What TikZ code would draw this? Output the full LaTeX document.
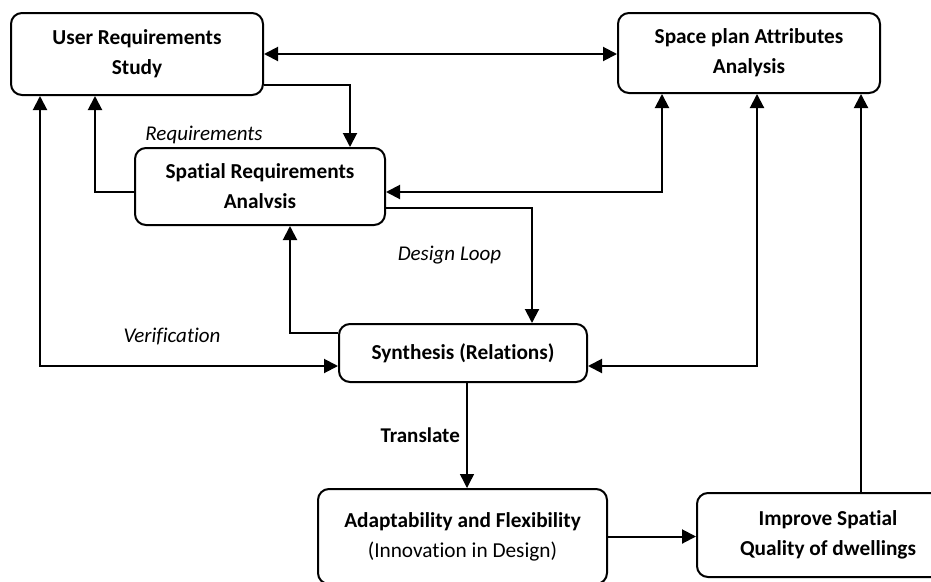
\documentclass[tikz,border=0pt]{standalone}
\usepackage{fontspec}
\setmainfont{Carlito}[Ligatures=NoCommon]
\usetikzlibrary{arrows.meta}
\tikzset{
  box/.style={draw, line width=2pt, rounded corners=11pt, align=center, inner sep=0pt,
    font=\fontsize{21.3}{30}\selectfont\bfseries},
  lbl/.style={inner sep=0pt, font=\fontsize{21}{24}\selectfont\itshape},
  conn/.style={line width=2pt, -{Triangle[length=14pt,width=14pt]}},
  both/.style={line width=2pt, {Triangle[length=14pt,width=14pt]}-{Triangle[length=14pt,width=14pt]}},
}
\begin{document}
\begin{tikzpicture}[x=1pt,y=-1pt]
\useasboundingbox (0,0) rectangle (931,581);
\clip (0,0) rectangle (931,581);
\node[box, minimum width=252pt, minimum height=82pt] (user) at (137,54) {User Requirements\\Study};
\node[box, minimum width=262pt, minimum height=80pt] (space) at (749,53) {Space plan Attributes\\Analysis};
\node[box, minimum width=250pt, minimum height=77pt] (spatial) at (260,186.5) {Spatial Requirements\\Analvsis};
\node[box, minimum width=248pt, minimum height=58pt] (synth) at (463,353) {Synthesis (Relations)};
\node[box, minimum width=289pt, minimum height=95pt] (adapt) at (462.5,536.5) {Adaptability and Flexibility\\\mdseries(Innovation in Design)};
\node[box, minimum width=262pt, minimum height=84pt] (improve) at (828,535) {Improve Spatial\\Quality of dwellings};

\node[lbl] (lreq) at (204,135) {Requirements};
\node[lbl] (lloop) at (449.5,255) {Design Loop};
\node[lbl] (lver) at (172,337) {Verification};
\node[lbl, font=\fontsize{21}{24}\selectfont\bfseries, anchor=east] (ltr) at (460,435) {Translate};

\draw[both] (user.east) -- (user.east -| space.west);
\draw[conn] ([yshift=-31pt]user.east) -| ([xshift=90pt]spatial.north);
\draw[conn] ([yshift=-5.5pt]spatial.west) -| ([xshift=-42pt]user.south);
\draw[conn] ([yshift=20pt]synth.west) -| ([xshift=30pt]spatial.south);
\draw[conn] ([yshift=-21.5pt]spatial.east) -| ([xshift=69pt]synth.north);
\draw[both] ([xshift=-97pt]user.south) |- ([yshift=-13pt]synth.west);
\draw[both] ([xshift=8pt]space.south) |- ([yshift=-13pt]synth.east);
\draw[both] ([xshift=-87pt]space.south) |- ([yshift=-5.5pt]spatial.east);
\draw[conn] ([xshift=33pt]improve.north) -- ([xshift=112pt]space.south);
\draw[conn, line width=1.4pt] ([xshift=4pt]synth.south) -- ([xshift=4.5pt]adapt.north);
\draw[conn] (adapt.east) -- (adapt.east -| improve.west);
\end{tikzpicture}
\end{document}
